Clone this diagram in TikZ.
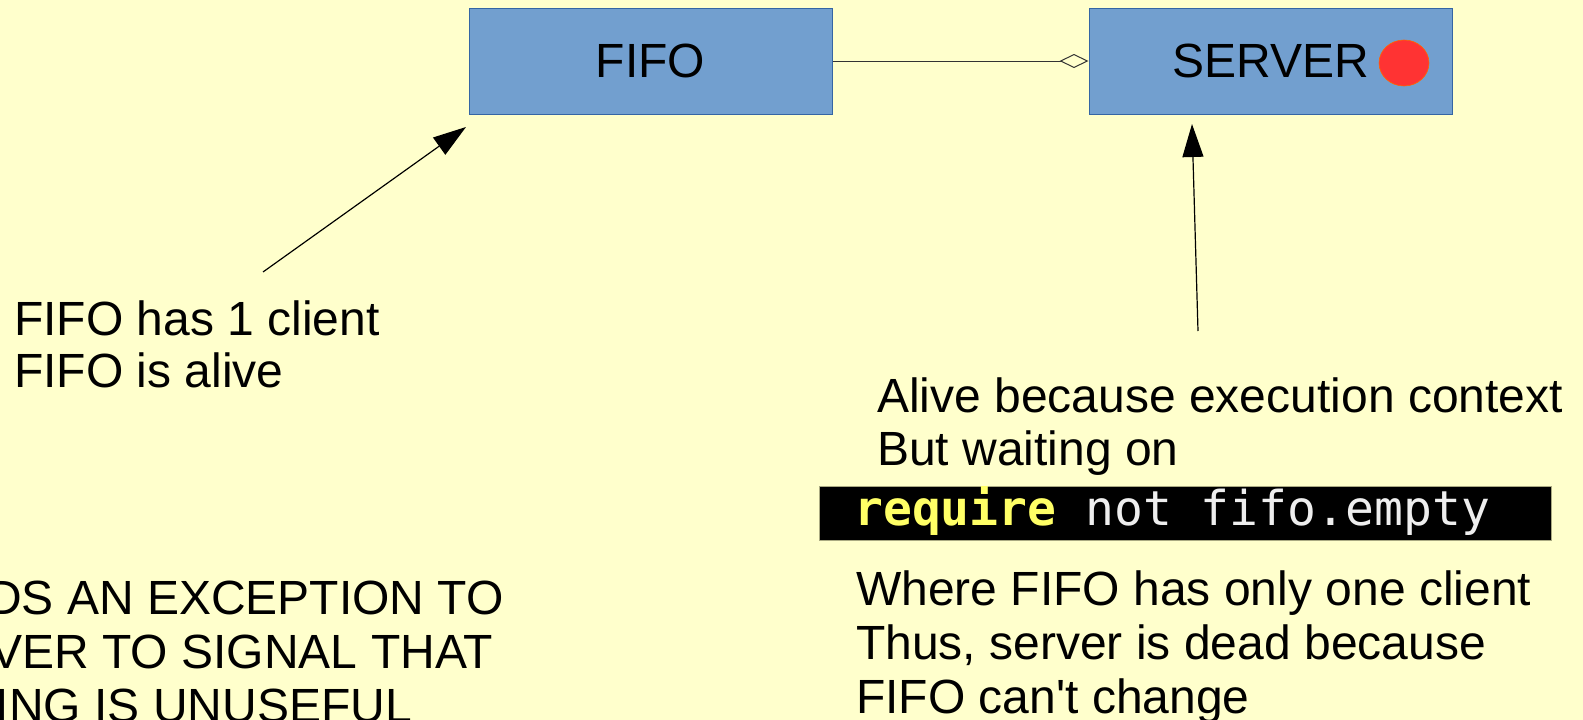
\documentclass[tikz,border=0pt]{standalone}
\usepackage{fontspec}
\setmainfont{Liberation Sans}
\newfontfamily\codefont{DejaVu Sans Mono}
\usetikzlibrary{arrows.meta,shapes.geometric}

\definecolor{paper}{HTML}{FFFFCC}
\definecolor{boxfill}{HTML}{729FCF}
\definecolor{boxline}{HTML}{3465A4}
\definecolor{dotred}{HTML}{FF3333}
\definecolor{dotrim}{HTML}{FF6600}
\definecolor{kwyellow}{HTML}{FFFF66}
\definecolor{codegray}{HTML}{EEEEEE}
\definecolor{linkgray}{HTML}{333333}

\begin{document}
\begin{tikzpicture}[x=1pt,y=-1pt,
  classbox/.style={draw=boxline, fill=boxfill, line width=1pt,
    minimum width=363pt, minimum height=106pt, inner sep=0pt,
    font=\fontsize{48}{48}\selectfont},
  % multi-line notes are placed by the baseline of their last line
  note/.style={inner sep=0pt, align=left, anchor=base west,
    font=\fontsize{48}{54}\selectfont},
  cutnote/.style={inner sep=0pt, anchor=base east,
    font=\fontsize{48}{54}\selectfont},
  pointer/.style={line width=1.2pt,
    -{Triangle[length=33pt,width=21pt]}},
  aggregation/.style={draw=linkgray, line width=1pt,
    -{Diamond[open,length=29pt,width=14pt,fill=paper]}},
  codebox/.style={fill=black, draw={rgb,255:red,170;green,170;blue,130},
    line width=0.6pt, minimum width=732pt, minimum height=54pt, inner sep=0pt},
  codetext/.style={inner sep=0pt, anchor=base west,
    font=\codefont\fontsize{48}{48}\selectfont, text=codegray},
]
% page and clipping frame
\useasboundingbox (0,0) rectangle (1583,720);
\fill[paper] (0,0) rectangle (1583,720);
\clip (0,0) rectangle (1583,720);

% classes
\node[classbox] (fifo) at (650.5,61) {FIFO};
\node[classbox] (server) at (1270.5,61) {SERVER};
\node[ellipse, fill=dotred, draw=dotrim, line width=0.6pt,
      minimum width=50pt, minimum height=46pt, inner sep=0pt] (state) at (1404,63) {};

% aggregation link
\draw[aggregation] (fifo.east) -- (server.west);

% notes
\node[note, font=\fontsize{48}{52}\selectfont] (fifoNote) at (14,387)
  {FIFO has 1 client\\FIFO is alive};
\node[note, font=\fontsize{48}{53}\selectfont] (aliveNote) at (877,465)
  {Alive because execution context\\But waiting on};
\node[codebox] (codeBox) at (1185,513) {};
\node[codetext] (codeLine) at (854,525)
  {\textcolor{kwyellow}{\bfseries require} not fifo.empty};
\node[note] (deadNote) at (856,713)
  {Where FIFO has only one client\\Thus, server is dead because\\FIFO can\textquotesingle t change};

% exception note running off the left edge
\node[cutnote] (excA) at (504,614) {DS AN EXCEPTION TO};
\node[cutnote] (excB) at (493,668) {VER TO SIGNAL THAT};
\node[cutnote] (excC) at (412,722) {ING IS UNUSEFUL};

% pointers from the notes to the classes
\coordinate (fifoTail) at (263,272);
\coordinate (fifoTip) at (466,127);
\coordinate (serverTail) at (1198,331);
\coordinate (serverTip) at (1192,124);
\draw[pointer] (fifoTail) -- (fifoTip);
\draw[pointer] (serverTail) -- (serverTip);
\end{tikzpicture}
\end{document}
